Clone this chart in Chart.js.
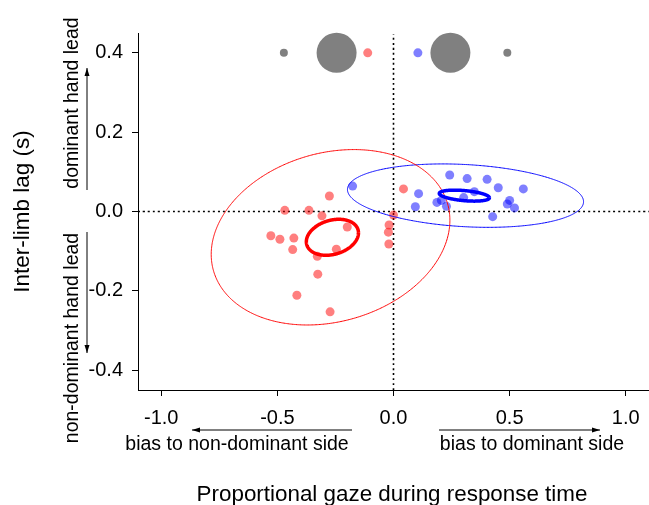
<!DOCTYPE html>
<html>
<head>
<meta charset="utf-8">
<script src="https://cdn.jsdelivr.net/npm/chart.js@4/dist/chart.umd.min.js"></script>
<style>
  html, body { margin: 0; padding: 0; background: #fff; }
  #wrap { width: 649px; height: 505px; position: relative; }
</style>
</head>
<body>
<div id="wrap"><canvas id="c" width="649" height="505"></canvas></div>
<script>
// ---------------- data ----------------
const xTicks = [-1.0, -0.5, 0.0, 0.5, 1.0];
const xTickLabels = ['-1.0', '-0.5', '0.0', '0.5', '1.0'];
const yTicks = [-0.4, -0.2, 0.0, 0.2, 0.4];
const yTickLabels = ['-0.4', '-0.2', '0.0', '0.2', '0.4'];

const redX = [-0.276, -0.468, -0.364, -0.308, -0.199, -0.528, -0.489, -0.429, -0.434, -0.246, -0.328, -0.326, -0.416, -0.273, 0.000, -0.019, -0.022, -0.020, 0.043];
const redY = [0.039, 0.003, 0.003, -0.011, -0.039, -0.061, -0.070, -0.067, -0.096, -0.095, -0.113, -0.158, -0.211, -0.253, -0.009, -0.034, -0.052, -0.082, 0.057];

const blueX = [0.242, 0.317, 0.403, 0.451, 0.559, 0.108, 0.348, 0.302, 0.094, 0.187, 0.206, 0.228, 0.490, 0.500, 0.521, 0.427, -0.176];
const blueY = [0.092, 0.083, 0.081, 0.060, 0.057, 0.045, 0.050, 0.035, 0.012, 0.023, 0.028, 0.013, 0.019, 0.028, 0.009, -0.013, 0.064];

// summary markers along the top (y = 0.4)
const topGrayX = [-0.472, 0.490];
const topBigGrayX = [-0.245, 0.245];
const topRedX = [-0.111];
const topBlueX = [0.105];
const topRowY = 0.4;

// ellipses: centre, variances and covariance (red large, red small, blue large, blue small)
const ellipseCenterX = [-0.271, -0.263, 0.310, 0.305];
const ellipseCenterY = [-0.065, -0.065, 0.040, 0.040];
const ellipseVarX = [0.264, 0.0126, 0.2583, 0.01165];
const ellipseVarY = [0.0489, 0.00206, 0.00639, 0.000192];
const ellipseCov = [0.0221, 0.00125, -0.00784, -0.000588];

// ---------------- build ----------------
function pts(xs, ys) { return xs.map((x, i) => ({ x: x, y: ys[i] })); }
function ellipse(i) {
  const out = [];
  const l11 = Math.sqrt(ellipseVarX[i]);
  const l21 = ellipseCov[i] / l11;
  const l22 = Math.sqrt(ellipseVarY[i] - l21 * l21);
  const n = 180;
  for (let k = 0; k <= n; k++) {
    const t = 2 * Math.PI * k / n;
    out.push({ x: ellipseCenterX[i] + l11 * Math.cos(t),
               y: ellipseCenterY[i] + l21 * Math.cos(t) + l22 * Math.sin(t) });
  }
  return out;
}

const RED = 'rgba(255,0,0,0.5)';
const BLUE = 'rgba(0,0,255,0.5)';
const GRAY = 'rgb(128,128,128)';
const FONT = '"Liberation Sans", Arial, sans-serif';

function pointSet(data, color, r, order) {
  return { type: 'scatter', data: data, showLine: false, pointRadius: r, pointHoverRadius: r,
           backgroundColor: color, borderWidth: 0, pointBorderWidth: 0, order: order, clip: false };
}
function lineSet(data, color, w, dash, order) {
  return { type: 'scatter', data: data, showLine: true, pointRadius: 0, pointHoverRadius: 0,
           borderColor: color, borderWidth: w, borderDash: dash, fill: false,
           tension: 0.01, borderJoinStyle: 'round', order: order, clip: false };
}

const datasets = [
  lineSet([{ x: -1.1, y: 0 }, { x: 1.1, y: 0 }], '#000', 1.6, [2, 3], 10),
  lineSet([{ x: 0, y: -0.45 }, { x: 0, y: 0.447 }], '#000', 1.6, [2, 3], 10),
  pointSet(pts(redX, redY), RED, 4.5, 8),
  pointSet(pts(blueX, blueY), BLUE, 4.5, 8),
  pointSet(topGrayX.map(x => ({ x: x, y: topRowY })), GRAY, 4, 8),
  pointSet(topBigGrayX.map(x => ({ x: x, y: topRowY })), GRAY, 20, 8),
  pointSet(topRedX.map(x => ({ x: x, y: topRowY })), RED, 4.5, 8),
  pointSet(topBlueX.map(x => ({ x: x, y: topRowY })), BLUE, 4.5, 8),
  lineSet(ellipse(0), '#ff0000', 1, [], 2),
  lineSet(ellipse(1), '#ff0000', 3.5, [], 1),
  lineSet(ellipse(2), '#0000ff', 1, [], 2),
  lineSet(ellipse(3), '#0000ff', 3.5, [], 1)
];

function arrow(ctx, x1, y1, x2, y2) {
  ctx.save();
  ctx.strokeStyle = '#000'; ctx.fillStyle = '#000'; ctx.lineWidth = 1;
  ctx.beginPath(); ctx.moveTo(x1, y1); ctx.lineTo(x2, y2); ctx.stroke();
  const a = Math.atan2(y2 - y1, x2 - x1);
  const L = 8, W = 2.5;
  ctx.beginPath();
  ctx.moveTo(x2, y2);
  ctx.lineTo(x2 - L * Math.cos(a) + W * Math.sin(a), y2 - L * Math.sin(a) - W * Math.cos(a));
  ctx.lineTo(x2 - L * Math.cos(a) - W * Math.sin(a), y2 - L * Math.sin(a) + W * Math.cos(a));
  ctx.closePath(); ctx.fill();
  ctx.restore();
}
function vtext(ctx, txt, x, y, size) {
  ctx.save();
  ctx.translate(x, y); ctx.rotate(-Math.PI / 2);
  ctx.font = size + 'px ' + FONT; ctx.fillStyle = '#000';
  ctx.textAlign = 'center'; ctx.textBaseline = 'middle';
  ctx.fillText(txt, 0, 0);
  ctx.restore();
}
function htext(ctx, txt, x, y, size) {
  ctx.save();
  ctx.font = size + 'px ' + FONT; ctx.fillStyle = '#000';
  ctx.textAlign = 'center'; ctx.textBaseline = 'middle';
  ctx.fillText(txt, x, y);
  ctx.restore();
}

const annotations = {
  id: 'annotations',
  afterDraw(chart) {
    const ctx = chart.ctx;
    vtext(ctx, 'Inter-limb lag (s)', 23, 211.5, 22.5);
    vtext(ctx, 'dominant hand lead', 73, 103, 19.5);
    vtext(ctx, 'non-dominant hand lead', 73, 338, 19.5);
    arrow(ctx, 87, 190, 87, 68);
    arrow(ctx, 87, 232, 87, 353);
    htext(ctx, 'bias to non-dominant side', 237, 445, 19.5);
    htext(ctx, 'bias to dominant side', 532, 445, 19.5);
    arrow(ctx, 352, 430, 192, 430);
    arrow(ctx, 439, 430, 600, 430);
    htext(ctx, 'Proportional gaze during response time', 392, 495, 22.4);
  }
};

new Chart(document.getElementById('c'), {
  type: 'scatter',
  data: { datasets: datasets },
  options: {
    responsive: false,
    animation: false,
    events: [],
    layout: { autoPadding: false, padding: { top: 33, right: 0, bottom: 0, left: 0 } },
    plugins: { legend: { display: false }, tooltip: { enabled: false } },
    scales: {
      x: {
        type: 'linear', min: -1.1, max: 1.1,
        afterBuildTicks: s => { s.ticks = xTicks.map(v => ({ value: v })); },
        afterFit: s => { s.height = 115; s.paddingLeft = 0; s.paddingRight = 0; },
        ticks: { callback: (v, i) => xTickLabels[i], color: '#000', padding: 10,
                 font: { family: FONT, size: 20 }, maxRotation: 0, autoSkip: false },
        grid: { drawOnChartArea: false, drawTicks: true, tickLength: 6, tickColor: '#000', color: '#000' },
        border: { display: true, color: '#000', width: 1 }
      },
      y: {
        type: 'linear', min: -0.45, max: 0.45,
        afterBuildTicks: s => { s.ticks = yTicks.map(v => ({ value: v })); },
        afterFit: s => { s.width = 138; s.paddingTop = 0; s.paddingBottom = 0; },
        ticks: { callback: (v, i) => yTickLabels[i], color: '#000', padding: 9,
                 font: { family: FONT, size: 20 }, autoSkip: false },
        grid: { drawOnChartArea: false, drawTicks: true, tickLength: 6, tickColor: '#000', color: '#000' },
        border: { display: true, color: '#000', width: 1 }
      }
    }
  },
  plugins: [annotations]
});
</script>
</body>
</html>
